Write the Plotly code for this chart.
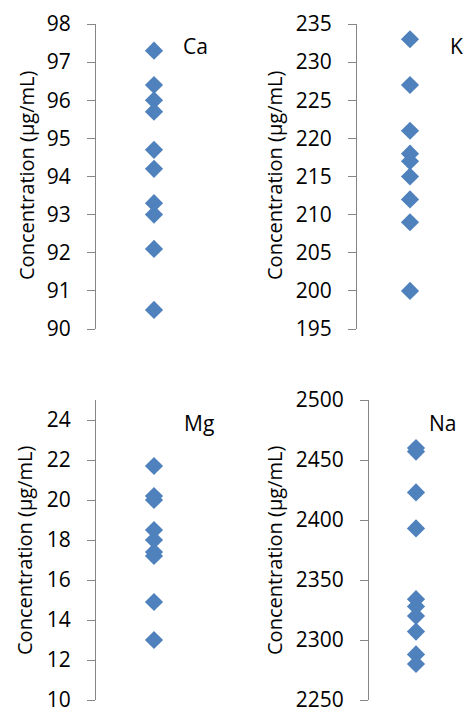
import plotly.graph_objects as go

W, H = 465, 714

ca = [97.3, 96.4, 96.0, 95.7, 94.7, 94.2, 93.3, 93.0, 92.1, 90.5]
k = [233, 227, 221, 218, 217, 215, 212, 209, 200]
mg = [21.7, 20.2, 20.0, 18.5, 18.0, 17.4, 17.2, 14.9, 13.0]
na = [2460, 2457, 2423, 2393, 2334, 2328, 2320, 2307, 2288, 2280]

labels = ["Ca", "K", "Mg", "Na"]
series = [ca, k, mg, na]
yranges = [[90, 98], [195, 235], [10, 25], [2250, 2500]]
dticks = [1, 5, 2, 50]

def px_x(p):
    return p / W

def px_y(p):
    return 1 - p / H

xdoms = [[96, 212], [357, 463], [96, 212], [369, 463]]
ydoms = [[24, 329], [24, 329], [400, 700], [400, 700]]
label_pos = [(195, 46), (456, 46), (199, 423), (442, 423)]
title_x = [26, 274, 24, 274]

font = "Open Sans, DejaVu Sans, sans-serif"
color = "#4F81BD"
axis_col = "#868686"

fig = go.Figure()
layout = dict(
    template="none",
    width=W, height=H, margin=dict(l=0, r=0, t=0, b=0, pad=0, autoexpand=False),
    paper_bgcolor="white", plot_bgcolor="white", showlegend=False,
    font=dict(family=font, size=20, color="#000000"),
)
annotations = []
for i in range(4):
    n = "" if i == 0 else str(i + 1)
    vals = series[i]
    fig.add_trace(go.Scatter(
        x=[1] * len(vals), y=vals, mode="markers",
        marker=dict(symbol="diamond", size=14, color=color, line=dict(width=0)),
        xaxis="x" + n, yaxis="y" + n, cliponaxis=False,
    ))
    layout["xaxis" + n] = dict(
        domain=[px_x(xdoms[i][0]), px_x(xdoms[i][1])], range=[0, 2],
        visible=False, anchor="y" + n, automargin=False,
    )
    layout["yaxis" + n] = dict(
        domain=[px_y(ydoms[i][1]), px_y(ydoms[i][0])], range=yranges[i],
        tick0=yranges[i][0], dtick=dticks[i], anchor="x" + n,
        showgrid=False, zeroline=False, showline=True, linecolor=axis_col,
        linewidth=1, ticks="outside", ticklen=8, tickcolor=axis_col, tickwidth=1,
        tickfont=dict(size=21, family=font, color="#000000"),
        ticklabelstandoff=12, automargin=False, ticklabeloverflow="allow",
    )
    lx, ly = label_pos[i]
    annotations.append(dict(
        text=labels[i], x=px_x(lx), y=px_y(ly), xref="paper", yref="paper",
        showarrow=False, font=dict(size=21, family=font, color="#000000"),
        xanchor="center", yanchor="middle",
    ))
    annotations.append(dict(
        text="Concentration (μg/mL)", x=px_x(title_x[i]), y=px_y(176 if i < 2 else 551),
        xref="paper", yref="paper", showarrow=False, textangle=-90,
        font=dict(size=20, family=font, color="#000000"),
        xanchor="center", yanchor="middle",
    ))
layout["annotations"] = annotations
fig.update_layout(**layout)
fig.write_html(
    "out.html",
    config={"displayModeBar": False},
    post_script="document.body.style.margin='0';document.body.style.padding='0';document.body.style.overflow='hidden';",
)
